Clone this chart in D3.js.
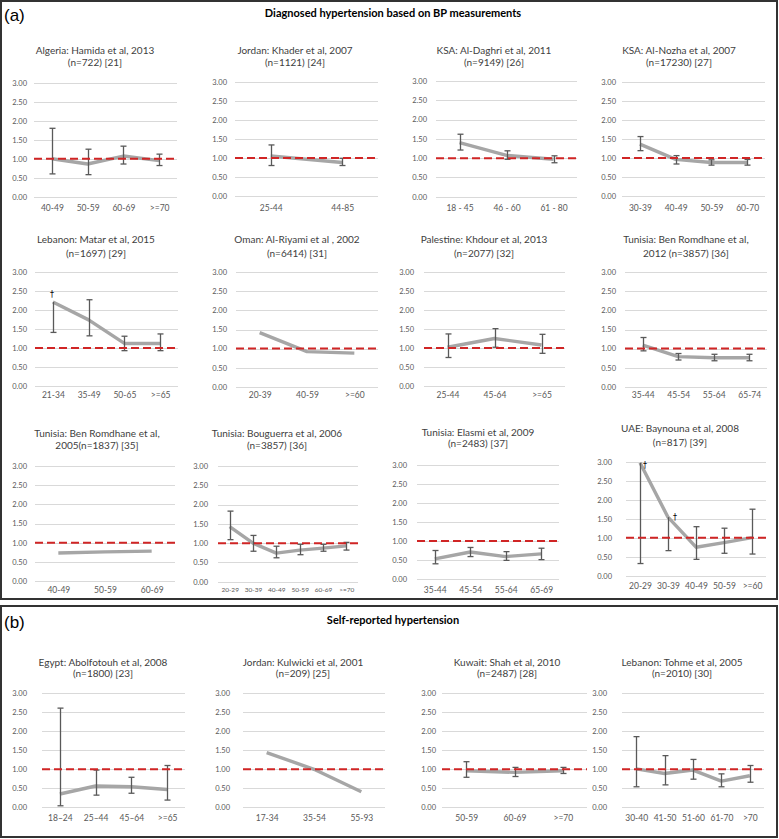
<!DOCTYPE html>
<html><head><meta charset="utf-8">
<script src="https://cdn.jsdelivr.net/npm/d3@7"></script>
<style>
body{margin:0;background:#fff}
svg{display:block}
</style>
</head><body>
<svg id="c" width="779" height="839"></svg>
<script>
// ---------------- DATA ----------------
const sectionLabels = ["(a)", "(b)"];
const sectionTitles = ["Diagnosed hypertension based on BP measurements", "Self-reported hypertension"];
const yTicks = [0, 0.5, 1, 1.5, 2, 2.5, 3];
const referenceValue = 1;

const titleLine1 = [
  "Algeria: Hamida et al, 2013", "Jordan: Khader et al, 2007", "KSA: Al-Daghri et al, 2011", "KSA: Al-Nozha et al, 2007",
  "Lebanon: Matar et al, 2015", "Oman: Al-Riyami et al , 2002", "Palestine: Khdour et al, 2013", "Tunisia: Ben Romdhane et al,",
  "Tunisia: Ben Romdhane et al,", "Tunisia: Bouguerra et al, 2006", "Tunisia: Elasmi et al, 2009", "UAE: Baynouna et al, 2008",
  "Egypt: Abolfotouh et al, 2008", "Jordan: Kulwicki et al, 2001", "Kuwait: Shah et al, 2010", "Lebanon: Tohme et al, 2005"
];
const titleLine2 = [
  "(n=722) [21]", "(n=1121) [24]", "(n=9149) [26]", "(n=17230) [27]",
  "(n=1697) [29]", "(n=6414) [31]", "(n=2077) [32]", "2012 (n=3857) [36]",
  "2005(n=1837) [35]", "(n=3857) [36]", "(n=2483) [37]", "(n=817) [39]",
  "(n=1800) [23]", "(n=209) [25]", "(n=2487) [28]", "(n=2010) [30]"
];
const categories = [
  ["40-49", "50-59", "60-69", ">=70"],
  ["25-44", "44-85"],
  ["18 - 45", "46 - 60", "61 - 80"],
  ["30-39", "40-49", "50-59", "60-70"],
  ["21-34", "35-49", "50-65", ">=65"],
  ["20-39", "40-59", ">=60"],
  ["25-44", "45-64", ">=65"],
  ["35-44", "45-54", "55-64", "65-74"],
  ["40-49", "50-59", "60-69"],
  ["20-29", "30-39", "40-49", "50-59", "60-69", ">=70"],
  ["35-44", "45-54", "55-64", "65-69"],
  ["20-29", "30-39", "40-49", "50-59", ">=60"],
  ["18\u201324", "25\u201344", "45\u201364", ">=65"],
  ["17-34", "35-54", "55-93"],
  ["50-59", "60-69", ">=70"],
  ["30-40", "41-50", "51-60", "61-70", ">70"]
];
const oddsRatio = [
  [1.00, 0.86, 1.07, 0.95],
  [1.05, 0.88],
  [1.40, 1.07, 0.97],
  [1.36, 0.96, 0.88, 0.88],
  [2.21, 1.74, 1.12, 1.12],
  [1.42, 0.92, 0.88],
  [1.02, 1.25, 1.08],
  [1.09, 0.79, 0.76, 0.76],
  [0.73, 0.76, 0.78],
  [1.43, 1.00, 0.74, 0.82, 0.87, 0.93],
  [0.53, 0.71, 0.59, 0.66],
  [2.97, 1.54, 0.75, 0.87, 1.00],
  [0.35, 0.56, 0.54, 0.47],
  [1.44, 1.00, 0.41],
  [0.96, 0.92, 0.96],
  [1.01, 0.89, 0.98, 0.69, 0.83]
];
const ciLower = [
  [0.60, 0.58, 0.86, 0.82],
  [0.80, 0.80],
  [1.21, 0.97, 0.88],
  [1.19, 0.84, 0.81, 0.81],
  [1.41, 1.32, 0.93, 0.93],
  null,
  [0.75, 1.02, 0.86],
  [0.94, 0.70, 0.68, 0.68],
  null,
  [1.09, 0.79, 0.62, 0.70, 0.79, 0.82],
  [0.40, 0.59, 0.49, 0.51],
  [0.32, 0.66, 0.43, 0.59, 0.57],
  [0.04, 0.32, 0.37, 0.19],
  null,
  [0.79, 0.81, 0.89],
  [0.54, 0.59, 0.74, 0.54, 0.66]
];
const ciUpper = [
  [1.80, 1.25, 1.33, 1.12],
  [1.34, 0.99],
  [1.62, 1.19, 1.06],
  [1.56, 1.06, 0.95, 0.96],
  [null, 2.27, 1.31, 1.37],
  null,
  [1.37, 1.51, 1.36],
  [1.29, 0.87, 0.85, 0.85],
  null,
  [1.83, 1.20, 0.92, 0.97, 0.97, 1.02],
  [0.75, 0.83, 0.72, 0.81],
  [null, null, 1.29, 1.25, 1.75],
  [2.61, 0.98, 0.79, 1.10],
  null,
  [1.20, 1.05, 1.05],
  [1.86, 1.36, 1.26, 0.88, 1.10]
];
// panels/points marked with a dagger (upper CI not shown)
const daggerPanel = [4, 11, 11];
const daggerIndex = [0, 0, 1];

// ---------------- LAYOUT ----------------
const layout = [
  {x0:34, x1:177, yt:82.7, yb:196.7, tx:95,  ty:[50,62],   lr:27,  xl:210},
  {x0:235,x1:378, yt:81.7, yb:196,   tx:295, ty:[50,62],   lr:227, xl:210},
  {x0:436,x1:577, yt:81,   yb:196.7, tx:494, ty:[50,62],   lr:427, xl:210},
  {x0:622,x1:765, yt:81.7, yb:196,   tx:679, ty:[50,62],   lr:616, xl:210},
  {x0:35, x1:178, yt:272,  yb:386,   tx:96,  ty:[239,253], lr:27,  xl:397},
  {x0:236,x1:378, yt:272.3,yb:386.7, tx:297, ty:[239,253], lr:227, xl:397},
  {x0:424,x1:565, yt:272,  yb:386,   tx:484, ty:[239,253], lr:414, xl:397},
  {x0:625,x1:767, yt:272.3,yb:386.7, tx:686, ty:[239,253], lr:616, xl:397},
  {x0:35, x1:175, yt:466,  yb:581,   tx:97,  ty:[433,445], lr:27,  xl:592},
  {x0:218,x1:358, yt:466,  yb:581.7, tx:277, ty:[433,445], lr:208, xl:592, small:true},
  {x0:417,x1:559, yt:465,  yb:579,   tx:478, ty:[432,443], lr:407, xl:592},
  {x0:626,x1:766, yt:461.7,yb:575.7, tx:680, ty:[428,442], lr:612, xl:588},
  {x0:42, x1:185, yt:693.3,yb:807.3, tx:103, ty:[662,673], lr:27,  xl:820},
  {x0:243,x1:385, yt:693.3,yb:807.3, tx:303, ty:[662,673], lr:230, xl:820},
  {x0:442,x1:587, yt:693.3,yb:807.3, tx:507, ty:[662,673], lr:436, xl:820},
  {x0:622,x1:764, yt:693.3,yb:807.3, tx:682, ty:[662,673], lr:607, xl:820}
];
const daggerOffset = [[-1,-8],[5,2],[7,0]];
const sectionBoxes = [{y0:1, y1:599, ly:21, ty:17}, {y0:606, y1:837, ly:628, ty:624}];

const FONT = "Lato, 'Open Sans', sans-serif";
const TEXT = "#404040", TICK = "#595959", GRID = "#D9D9D9", LINE = "#A6A6A6", ERR = "#595959", RED = "#D02525";

const svg = d3.select("#c");

sectionBoxes.forEach((b, i) => {
  svg.append("rect").attr("x", 1).attr("y", b.y0).attr("width", 776).attr("height", b.y1 - b.y0)
    .attr("fill", "none").attr("stroke", "#333").attr("stroke-width", 2);
  svg.append("text").attr("x", 4).attr("y", b.ly).text(sectionLabels[i])
    .attr("font-family", "'Liberation Sans', Arial, sans-serif").attr("font-size", 17).attr("fill", "#000");
  svg.append("text").attr("x", 393).attr("y", b.ty).attr("text-anchor", "middle").text(sectionTitles[i])
    .attr("font-family", FONT).attr("font-weight", "bold").attr("font-size", 11).attr("fill", "#000");
});

layout.forEach((L, p) => {
  const g = svg.append("g");
  const x = d3.scalePoint().domain(categories[p]).range([L.x0, L.x1]).padding(0.5);
  const y = d3.scaleLinear().domain([0, 3]).range([L.yb, L.yt]);

  [titleLine1[p], titleLine2[p]].forEach((t, k) => {
    g.append("text").attr("x", L.tx).attr("y", L.ty[k]).attr("dy", "0.35em")
      .attr("text-anchor", "middle").attr("font-family", FONT).attr("font-size", 10)
      .attr("fill", TEXT).text(t);
  });

  g.append("g").selectAll("line").data(yTicks).join("line")
    .attr("x1", L.x0).attr("x2", L.x1)
    .attr("y1", d => Math.round(y(d)) + 0.5).attr("y2", d => Math.round(y(d)) + 0.5)
    .attr("stroke", GRID).attr("stroke-width", 1);

  const ya = g.append("g").attr("transform", `translate(${L.lr},0)`)
    .call(d3.axisLeft(y).tickValues(yTicks).tickFormat(d3.format(".2f")).tickSize(0).tickPadding(0));
  ya.select(".domain").remove();
  ya.selectAll("text").attr("font-family", FONT).attr("font-size", 7.5).attr("fill", TICK);

  const xa = g.append("g").attr("transform", `translate(0,${L.xl - 5})`)
    .call(d3.axisBottom(x).tickSize(0).tickPadding(0));
  xa.select(".domain").remove();
  xa.selectAll("text").attr("font-family", FONT).attr("font-size", L.small ? 6.5 : 8.5).attr("fill", TICK);

  const pts = categories[p].map((c, i) => ({c, v: oddsRatio[p][i],
    lo: ciLower[p] ? ciLower[p][i] : null, hi: ciUpper[p] ? ciUpper[p][i] : null}));
  g.append("path").datum(pts)
    .attr("d", d3.line().x(d => x(d.c)).y(d => y(d.v)))
    .attr("fill", "none").attr("stroke", LINE).attr("stroke-width", 3.4).attr("stroke-linejoin", "round");

  const eb = g.append("g").attr("stroke", ERR).attr("stroke-width", 1.3).attr("fill", "none");
  pts.filter(d => d.lo != null).forEach(d => {
    const cx = Math.round(x(d.c)) + 0.5;
    const top = d.hi != null ? d.hi : d.v;
    eb.append("line").attr("x1", cx).attr("x2", cx).attr("y1", y(d.lo)).attr("y2", y(top));
    eb.append("line").attr("x1", cx - 3).attr("x2", cx + 3).attr("y1", y(d.lo)).attr("y2", y(d.lo));
    if (d.hi != null)
      eb.append("line").attr("x1", cx - 3).attr("x2", cx + 3).attr("y1", y(d.hi)).attr("y2", y(d.hi));
  });

  g.append("line").attr("x1", L.x0).attr("x2", L.x1)
    .attr("y1", y(referenceValue)).attr("y2", y(referenceValue))
    .attr("stroke", RED).attr("stroke-width", 2).attr("stroke-dasharray", "8,4");

  daggerPanel.forEach((dp, k) => {
    if (dp !== p) return;
    const c = categories[p][daggerIndex[k]];
    g.append("text").attr("x", x(c) + daggerOffset[k][0]).attr("y", y(oddsRatio[p][daggerIndex[k]]) + daggerOffset[k][1])
      .attr("dy", "0.35em").attr("text-anchor", "middle").attr("font-family", "'DejaVu Sans', sans-serif")
      .attr("font-size", 8).attr("fill", "#000").text("\u2020");
  });
});
</script>
</body></html>
